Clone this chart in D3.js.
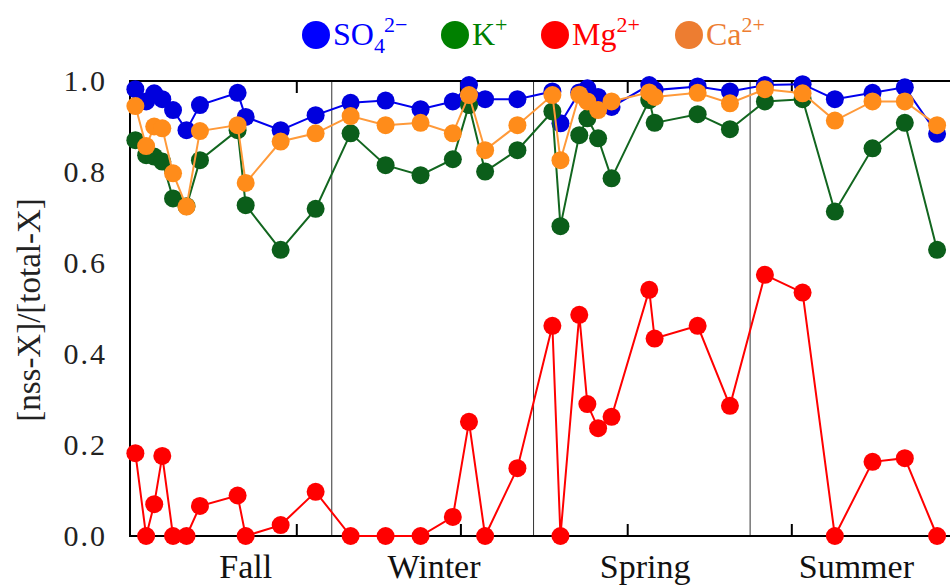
<!DOCTYPE html>
<html>
<head>
<meta charset="utf-8">
<script src="https://cdn.jsdelivr.net/npm/d3@7"></script>
<style>
  body { margin: 0; background: #fff; }
  text { font-family: "Liberation Serif", "Times New Roman", serif; }
</style>
</head>
<body>
<svg id="chart" width="950" height="586"></svg>
<script>
// sampling day (days since start of the campaign)
const days = [2, 6, 9, 12, 16, 21, 26, 40, 43, 56, 69,
  82, 95, 108, 120, 126, 132, 144,
  157, 160, 167, 170, 174, 179, 193, 195, 211, 223,
  236, 250, 262, 276, 288, 300];

// [nss-X]/[total-X] for each ion
const so4 = [0.982, 0.955, 0.973, 0.960, 0.936, 0.892, 0.947, 0.974, 0.921, 0.892, 0.925,
  0.952, 0.957, 0.938, 0.955, 0.991, 0.960, 0.960,
  0.977, 0.907, 0.975, 0.984, 0.965, 0.943, 0.991, 0.980, 0.988, 0.977,
  0.991, 0.993, 0.960, 0.974, 0.986, 0.884];
const kPlus = [0.870, 0.837, 0.834, 0.823, 0.742, 0.725, 0.826, 0.892, 0.727, 0.629, 0.719,
  0.885, 0.815, 0.793, 0.828, 0.947, 0.801, 0.848,
  0.933, 0.681, 0.881, 0.918, 0.874, 0.786, 0.958, 0.908, 0.927, 0.894,
  0.955, 0.960, 0.713, 0.852, 0.908, 0.629];
const mg = [0.182, 0.0, 0.070, 0.176, 0.0, 0.0, 0.066, 0.089, 0.0, 0.024, 0.097,
  0.0, 0.0, 0.0, 0.042, 0.251, 0.0, 0.149,
  0.462, 0.0, 0.486, 0.290, 0.237, 0.262, 0.541, 0.434, 0.462, 0.286,
  0.574, 0.535, 0.0, 0.163, 0.171, 0.0];
const ca = [0.945, 0.857, 0.900, 0.896, 0.797, 0.724, 0.890, 0.903, 0.776, 0.867, 0.885,
  0.923, 0.903, 0.908, 0.885, 0.969, 0.848, 0.903,
  0.969, 0.826, 0.970, 0.955, 0.936, 0.955, 0.975, 0.965, 0.974, 0.951,
  0.982, 0.973, 0.913, 0.955, 0.955, 0.903];

const seasons = ["Fall", "Winter", "Spring", "Summer"];
const seasonCenters = [43, 113, 191.5, 270];
const seasonBreaks = [75, 150, 230.5];
const xTicks = [62, 123, 185, 246];
const yTicks = [0, 0.2, 0.4, 0.6, 0.8, 1.0];

const series = [
  { name: "so4", values: so4, line: "#0000ee", fill: "#0000dd", legend: "#0000ff" },
  { name: "k", values: kPlus, line: "#12661f", fill: "#0b5e1a", legend: "#008000" },
  { name: "mg", values: mg, line: "#ff0000", fill: "#ff0000", legend: "#ff0000" },
  { name: "ca", values: ca, line: "#ff9a3a", fill: "#ff8c1a", legend: "#ed7d31" }
];

const svg = d3.select("#chart");
const plotLeft = 130, plotTop = 81, plotBottom = 536;

const x = d3.scaleLinear().domain([0, 310]).range([plotLeft, 964]);
const y = d3.scaleLinear().domain([0, 1]).range([plotBottom, plotTop]);

// season separators
svg.append("g")
  .selectAll("line")
  .data(seasonBreaks)
  .join("line")
  .attr("x1", (d) => x(d)).attr("x2", (d) => x(d))
  .attr("y1", plotTop).attr("y2", plotBottom)
  .attr("stroke", "#333").attr("stroke-width", 1);

// frame (left, top, bottom)
const frame = svg.append("g").attr("stroke", "#000").attr("stroke-width", 2);
frame.append("line").attr("x1", plotLeft).attr("x2", plotLeft).attr("y1", plotTop - 1).attr("y2", plotBottom + 1);
frame.append("line").attr("x1", plotLeft).attr("x2", 950).attr("y1", plotTop).attr("y2", plotTop);
frame.append("line").attr("x1", plotLeft).attr("x2", 950).attr("y1", plotBottom).attr("y2", plotBottom);

// inward ticks on top and bottom
frame.selectAll(".tb")
  .data(xTicks)
  .join("line")
  .attr("class", "tb")
  .attr("x1", (d) => x(d)).attr("x2", (d) => x(d))
  .attr("y1", plotBottom).attr("y2", plotBottom - 12);
frame.selectAll(".tt")
  .data(xTicks)
  .join("line")
  .attr("class", "tt")
  .attr("x1", (d) => x(d)).attr("x2", (d) => x(d))
  .attr("y1", plotTop).attr("y2", plotTop + 12);

// y tick labels
svg.append("g")
  .selectAll("text")
  .data(yTicks)
  .join("text")
  .attr("x", 107)
  .attr("y", (d) => y(d) + 10)
  .attr("text-anchor", "end")
  .attr("font-size", 30)
  .attr("letter-spacing", 2)
  .attr("fill", "#222")
  .text((d) => d3.format(".1f")(d));

// y title
svg.append("text")
  .attr("transform", "translate(40,310) rotate(-90)")
  .attr("text-anchor", "middle")
  .attr("font-size", 33)
  .attr("fill", "#222")
  .text("[nss-X]/[total-X]");

// season labels
svg.append("g")
  .selectAll("text")
  .data(seasons)
  .join("text")
  .attr("x", (d, i) => x(seasonCenters[i]))
  .attr("y", 578)
  .attr("text-anchor", "middle")
  .attr("font-size", 34)
  .attr("fill", "#111")
  .text((d) => d);

// series: line + markers
const line = d3.line()
  .x((d, i) => x(days[i]))
  .y((d) => y(d));

const plot = svg.append("g");
series.forEach((s) => {
  const g = plot.append("g");
  g.append("path")
    .datum(s.values)
    .attr("d", line)
    .attr("fill", "none")
    .attr("stroke", s.line)
    .attr("stroke-width", 2);
  g.selectAll("circle")
    .data(s.values)
    .join("circle")
    .attr("cx", (d, i) => x(days[i]))
    .attr("cy", (d) => y(d))
    .attr("r", 9)
    .attr("fill", s.fill);
});

// legend
const legendItems = [
  { base: "SO", sub: "4", sup: "2\u2212", color: series[0].legend, x: 316 },
  { base: "K", sub: "", sup: "+", color: series[1].legend, x: 455 },
  { base: "Mg", sub: "", sup: "2+", color: series[2].legend, x: 555 },
  { base: "Ca", sub: "", sup: "2+", color: series[3].legend, x: 689 }
];
const legend = svg.append("g")
  .selectAll("g")
  .data(legendItems)
  .join("g")
  .attr("transform", (d) => `translate(${d.x},35)`);
legend.append("ellipse")
  .attr("rx", 14).attr("ry", 14)
  .attr("fill", (d) => d.color);
const lt = legend.append("text")
  .attr("x", 17)
  .attr("y", 10)
  .attr("font-size", 32)
  .attr("fill", (d) => d.color);
lt.append("tspan").text((d) => d.base);
lt.filter((d) => d.sub)
  .append("tspan")
  .attr("font-size", 22)
  .attr("dy", 8)
  .text((d) => d.sub);
lt.append("tspan")
  .attr("font-size", 22)
  .attr("dy", (d) => (d.sub ? -21 : -13))
  .attr("dx", (d) => (d.sub ? -1 : 0))
  .text((d) => d.sup);
</script>
</body>
</html>
